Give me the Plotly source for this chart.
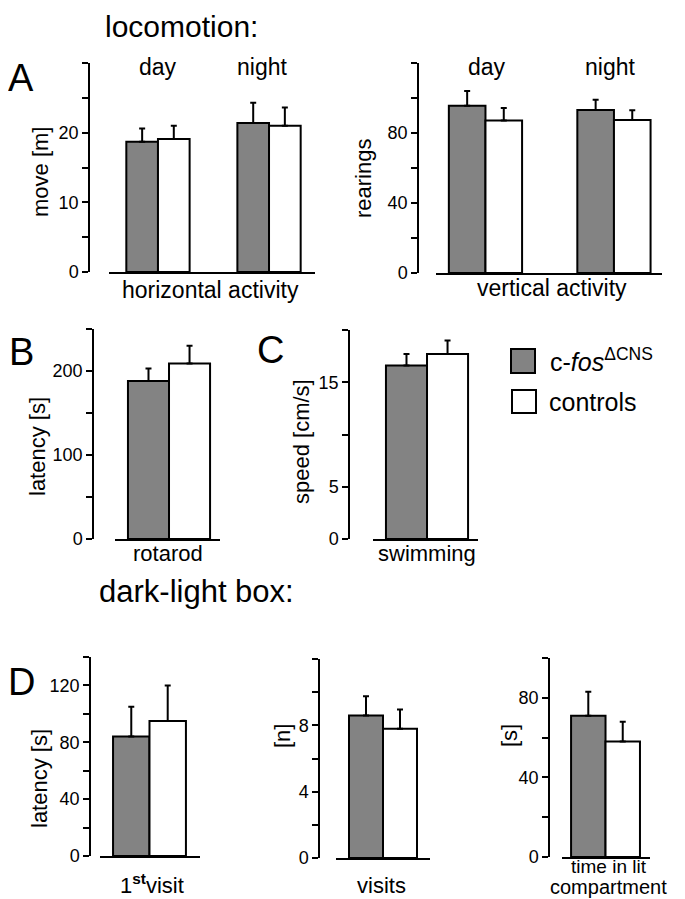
import plotly.graph_objects as go

# The page body adds an 8px margin around the figure div, so the figure is
# sized to fill the remaining window and reference pixels are shifted by OFF.
WIN_W, WIN_H = 685, 899
OFF = 8
W, H = WIN_W - OFF, WIN_H - OFF
GREY = "#838383"
FONT = "Liberation Sans, Arial, Helvetica, sans-serif"

# ---------------- data ----------------
day_night = ["day", "night"]
move_cfos = [18.7, 21.4]
move_cfos_err = [1.9, 2.9]
move_ctrl = [19.1, 21.0]
move_ctrl_err = [1.9, 2.6]

rear_cfos = [95.6, 93.1]
rear_cfos_err = [8.4, 5.9]
rear_ctrl = [87.2, 87.4]
rear_ctrl_err = [7.1, 5.6]

rotarod_cat = ["rotarod"]
rotarod_cfos = [188]
rotarod_cfos_err = [15]
rotarod_ctrl = [209]
rotarod_ctrl_err = [21]

swim_cat = ["swimming"]
swim_cfos = [16.6]
swim_cfos_err = [1.1]
swim_ctrl = [17.7]
swim_ctrl_err = [1.3]

first_cat = ["1st visit"]
first_cfos = [84]
first_cfos_err = [21]
first_ctrl = [95]
first_ctrl_err = [25]

visits_cat = ["visits"]
visits_cfos = [8.6]
visits_cfos_err = [1.15]
visits_ctrl = [7.8]
visits_ctrl_err = [1.15]

lit_cat = ["time in lit compartment"]
lit_cfos = [71]
lit_cfos_err = [12]
lit_ctrl = [58]
lit_ctrl_err = [10]

# labelled ticks and the step of the unlabelled (minor) ticks
move_ticks = [0, 10, 20]
move_step = 5
rear_ticks = [0, 40, 80]
rear_step = 20
rot_ticks = [0, 100, 200]
rot_step = 50
swim_ticks = [0, 5, 15]
swim_step = 5
first_ticks = [0, 40, 80, 120]
first_step = 20
visits_ticks = [0, 4, 8]
visits_step = 2
lit_ticks = [0, 40, 80]
lit_step = 20

# ---------------- layout geometry (window pixels -> paper) ----------------
def px(x):
    return (x - OFF) / W

def py(y):
    return 1 - (y - OFF) / H

panels = [
    # cats, cfos, cfos_err, ctrl, ctrl_err, ymax, ticks, step, yaxis_x, top, zero, xl, xr, xrange
    (day_night, move_cfos, move_cfos_err, move_ctrl, move_ctrl_err, 30, move_ticks, move_step,
     89, 63, 272, 109, 315, [-0.441, 1.414]),
    (day_night, rear_cfos, rear_cfos_err, rear_ctrl, rear_ctrl_err, 120, rear_ticks, rear_step,
     418, 63, 273, 436, 662, [-0.385, 1.374]),
    (rotarod_cat, rotarod_cfos, rotarod_cfos_err, rotarod_ctrl, rotarod_ctrl_err, 250, rot_ticks, rot_step,
     93, 329, 539, 115, 220, [-0.375, 0.354]),
    (swim_cat, swim_cfos, swim_cfos_err, swim_ctrl, swim_ctrl_err, 20, swim_ticks, swim_step,
     349, 330, 539, 373, 478, [-0.375, 0.354]),
    (first_cat, first_cfos, first_cfos_err, first_ctrl, first_ctrl_err, 140, first_ticks, first_step,
     90, 657, 856, 100, 200, [-0.387, 0.395]),
    (visits_cat, visits_cfos, visits_cfos_err, visits_ctrl, visits_ctrl_err, 12, visits_ticks, visits_step,
     319, 659, 858, 336, 430, [-0.394, 0.394]),
    (lit_cat, lit_cfos, lit_cfos_err, lit_ctrl, lit_ctrl_err, 100, lit_ticks, lit_step,
     549, 658, 857, 562, 650, [-0.36, 0.368]),
]

fig = go.Figure()
layout = dict(
    width=W, height=H, autosize=False,
    margin=dict(l=0, r=0, t=0, b=0, pad=0, autoexpand=False),
    paper_bgcolor="white", plot_bgcolor="white",
    barmode="group", bargap=0.43, bargroupgap=0,
    showlegend=False,
    font=dict(family=FONT, color="black", size=18),
)

for i, (cats, cf, cfe, ct, cte, ymax, tv, step, yx, top, zero, xl, xr, xrng) in enumerate(panels, start=1):
    xa = "x" if i == 1 else f"x{i}"
    ya = "y" if i == 1 else f"y{i}"
    for vals, errs, color, name in ((cf, cfe, GREY, "c-fos"), (ct, cte, "white", "controls")):
        fig.add_trace(go.Bar(
            x=cats, y=vals, name=name, xaxis=xa, yaxis=ya,
            marker=dict(color=color, line=dict(color="black", width=2)),
            error_y=dict(type="data", symmetric=False, array=errs, arrayminus=[0] * len(errs),
                         color="black", thickness=2, width=3),
            hoverinfo="skip",
        ))
    xkey = "xaxis" if i == 1 else f"xaxis{i}"
    ykey = "yaxis" if i == 1 else f"yaxis{i}"
    layout[xkey] = dict(
        domain=[px(xl), px(xr)], anchor=ya, type="category", range=xrng,
        showline=True, linecolor="black", linewidth=1.5, ticks="",
        showticklabels=False, showgrid=False, zeroline=False, fixedrange=True,
        automargin=False,
    )
    layout[ykey] = dict(
        domain=[py(zero), py(top)], anchor="free", position=px(yx), range=[0, ymax],
        showline=True, linecolor="black", linewidth=1.5,
        ticks="outside", ticklen=6, tickwidth=1.5, tickcolor="black",
        tickmode="array", tickvals=tv, ticktext=[str(v) for v in tv],
        tickfont=dict(size=18, family=FONT),
        minor=dict(tick0=0, dtick=step, ticks="outside", ticklen=6, tickwidth=1.5,
                   tickcolor="black", showgrid=False),
        showgrid=False, zeroline=False, fixedrange=True, automargin=False,
    )

fig.update_layout(**layout)

# ---------------- text ----------------
def note(text, x, y, size, angle=0, xanchor="center", yanchor="middle"):
    fig.add_annotation(text=text, x=px(x), y=py(y), xref="paper", yref="paper",
                       showarrow=False, font=dict(size=size, family=FONT, color="black"),
                       textangle=angle, xanchor=xanchor, yanchor=yanchor)

note("locomotion:", 103, OFF, 30, xanchor="left", yanchor="top")
note("dark-light box:", 97, 591, 31, xanchor="left")
note("A", 21, 78, 38)
note("B", 21, 352, 38)
note("C", 270, 350, 38)
note("D", 21, 682, 38)

note("day", 158, 67, 23)
note("night", 262, 67, 23)
note("day", 487, 67, 23)
note("night", 610, 67, 23)
note("horizontal activity", 210, 290, 23)
note("vertical activity", 552, 288, 23)
note("move [m]", 40, 172, 22, angle=-90)
note("rearings", 363, 179, 22, angle=-90)

note("latency [s]", 37, 447, 22, angle=-90)
note("rotarod", 168, 553, 22)
note("speed [cm/s]", 301, 442, 22, angle=-90)
note("swimming", 427, 553, 22)

note("latency [s]", 39, 778, 22, angle=-90)
note("1<sup><b>st</b></sup>visit", 152, 884, 22)
note("[n]", 282, 736, 22, angle=-90)
note("visits", 381, 885, 22)
note("[s]", 509, 736, 22, angle=-90)
note("time in lit", 609, 866, 19)
note("compartment", 608, 887, 20)

# legend
fig.add_shape(type="rect", xref="paper", yref="paper", x0=px(511), x1=px(535), y0=py(373), y1=py(349),
              fillcolor=GREY, line=dict(color="black", width=2))
fig.add_shape(type="rect", xref="paper", yref="paper", x0=px(512), x1=px(536), y0=py(413), y1=py(390),
              fillcolor="white", line=dict(color="black", width=2))
note("c-<i>fos</i><sup>ΔCNS</sup>", 548, 360, 25, xanchor="left")
note("controls", 547, 402, 25, xanchor="left")

fig.write_html("out.html")
